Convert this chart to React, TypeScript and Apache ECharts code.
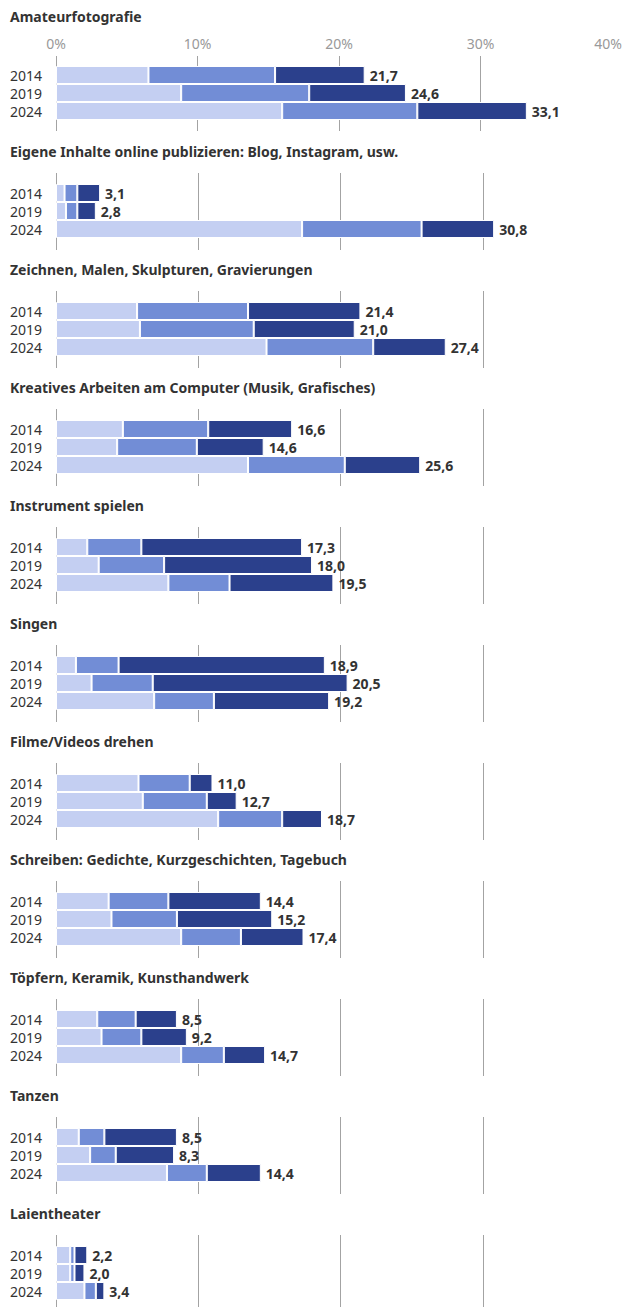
import React, { useEffect, useRef } from "react";
import * as echarts from "echarts";

const years = ["2014", "2019", "2024"];
const activities = [
  "Amateurfotografie",
  "Eigene Inhalte online publizieren: Blog, Instagram, usw.",
  "Zeichnen, Malen, Skulpturen, Gravierungen",
  "Kreatives Arbeiten am Computer (Musik, Grafisches)",
  "Instrument spielen",
  "Singen",
  "Filme/Videos drehen",
  "Schreiben: Gedichte, Kurzgeschichten, Tagebuch",
  "Töpfern, Keramik, Kunsthandwerk",
  "Tanzen",
  "Laientheater",
];
// segment values per activity, per year [2014, 2019, 2024]
const segLight = [
  [6.5, 8.8, 15.9],
  [0.6, 0.7, 17.3],
  [5.7, 5.9, 14.8],
  [4.7, 4.3, 13.5],
  [2.2, 3.0, 7.9],
  [1.4, 2.5, 6.9],
  [5.8, 6.1, 11.4],
  [3.7, 3.9, 8.8],
  [2.9, 3.2, 8.8],
  [1.6, 2.4, 7.8],
  [1.0, 1.0, 2.0],
];
const segMedium = [
  [8.9, 9.0, 9.5],
  [0.9, 0.8, 8.4],
  [7.8, 8.0, 7.5],
  [6.0, 5.6, 6.8],
  [3.8, 4.6, 4.3],
  [3.0, 4.3, 4.2],
  [3.6, 4.5, 4.5],
  [4.2, 4.6, 4.2],
  [2.7, 2.8, 3.0],
  [1.8, 1.8, 2.8],
  [0.3, 0.3, 0.8],
];
const segDark = [
  [6.3, 6.8, 7.7],
  [1.6, 1.3, 5.1],
  [7.9, 7.1, 5.1],
  [5.9, 4.7, 5.3],
  [11.3, 10.4, 7.3],
  [14.5, 13.7, 8.1],
  [1.6, 2.1, 2.8],
  [6.5, 6.7, 4.4],
  [2.9, 3.2, 2.9],
  [5.1, 4.1, 3.8],
  [0.9, 0.7, 0.6],
];
const totals = [
  [21.7, 24.6, 33.1],
  [3.1, 2.8, 30.8],
  [21.4, 21.0, 27.4],
  [16.6, 14.6, 25.6],
  [17.3, 18.0, 19.5],
  [18.9, 20.5, 19.2],
  [11.0, 12.7, 18.7],
  [14.4, 15.2, 17.4],
  [8.5, 9.2, 14.7],
  [8.5, 8.3, 14.4],
  [2.2, 2.0, 3.4],
];
const axisTicks = [0, 10, 20, 30, 40];

const COLORS = ["#c4cff2", "#728dd6", "#2b408c"];
const FONT = "'Noto Sans', sans-serif";

export default function App() {
  const ref = useRef<HTMLDivElement>(null);

  useEffect(() => {
    if (!ref.current) return;
    const chart = echarts.init(ref.current, null, { renderer: "svg" });

    const grids: any[] = [];
    const xAxes: any[] = [];
    const yAxes: any[] = [];
    const series: any[] = [];
    const titles: any[] = [];

    activities.forEach((name, p) => {
      const T = p === 0 ? 17 : 152 + 118 * (p - 1);
      const bgTop = p === 0 ? 56 : T + 21;
      const bgH = p === 0 ? 75 : 77;
      const barTop = p === 0 ? 66 : T + 32;
      const bgIdx = grids.length;
      grids.push({ left: 56, width: 569, top: bgTop, height: bgH });
      const barIdx = grids.length;
      grids.push({ left: 56, width: 569, top: barTop, height: 54 });

      titles.push({
        text: name,
        left: 10,
        top: T - 8,
        padding: 0,
        textStyle: { fontSize: 14, fontWeight: "bold", color: "#333", fontFamily: FONT },
      });

      xAxes.push({
        gridIndex: bgIdx,
        type: "value",
        min: axisTicks[0],
        max: axisTicks[axisTicks.length - 1],
        interval: axisTicks[1] - axisTicks[0],
        position: "top",
        axisLine: { show: false },
        axisTick: { show: false },
        axisLabel: {
          show: p === 0,
          formatter: "{value}%",
          color: "#999",
          fontSize: 14,
          fontFamily: FONT,
          margin: 6,
          alignMaxLabel: "right",
        },
        splitLine: {
          show: true,
          showMinLine: true,
          showMaxLine: false,
          lineStyle: { color: "#a3a3a3", width: 1 },
        },
      });
      yAxes.push({ gridIndex: bgIdx, type: "value", show: false, min: 0, max: 1 });

      xAxes.push({
        gridIndex: barIdx,
        type: "value",
        min: axisTicks[0],
        max: axisTicks[axisTicks.length - 1],
        show: false,
        splitLine: { show: false },
      });
      yAxes.push({
        gridIndex: barIdx,
        type: "category",
        data: years,
        inverse: true,
        axisLine: { show: false },
        axisTick: { show: false },
        splitLine: { show: false },
        axisLabel: {
          interval: 0,
          hideOverlap: false,
          color: "#333",
          fontSize: 14,
          lineHeight: 16,
          fontFamily: FONT,
          margin: 14,
        },
      });

      const xi = xAxes.length - 1;
      const yi = yAxes.length - 1;
      [segLight, segMedium, segDark].forEach((seg, s) => {
        series.push({
          type: "bar",
          name: ["a", "b", "c"][s],
          stack: "p" + p,
          xAxisIndex: xi,
          yAxisIndex: yi,
          barWidth: 18,
          data: seg[p],
          itemStyle: { color: COLORS[s], borderColor: "#fff", borderWidth: 1 },
          label:
            s === 2
              ? {
                  show: true,
                  position: "right",
                  distance: 5,
                  color: "#333",
                  fontSize: 14,
                  fontWeight: "bold",
                  fontFamily: FONT,
                  formatter: (d: any) => totals[p][d.dataIndex].toFixed(1).replace(".", ","),
                }
              : { show: false },
          emphasis: { disabled: true },
        });
      });
    });

    chart.setOption({
      animation: false,
      title: titles,
      grid: grids,
      xAxis: xAxes,
      yAxis: yAxes,
      series,
      tooltip: { show: false },
    });

    return () => chart.dispose();
  }, []);

  return (
    <div
      ref={ref}
      style={{ position: "absolute", left: 0, top: 0, width: 625, height: 1307, background: "#fff" }}
    />
  );
}
